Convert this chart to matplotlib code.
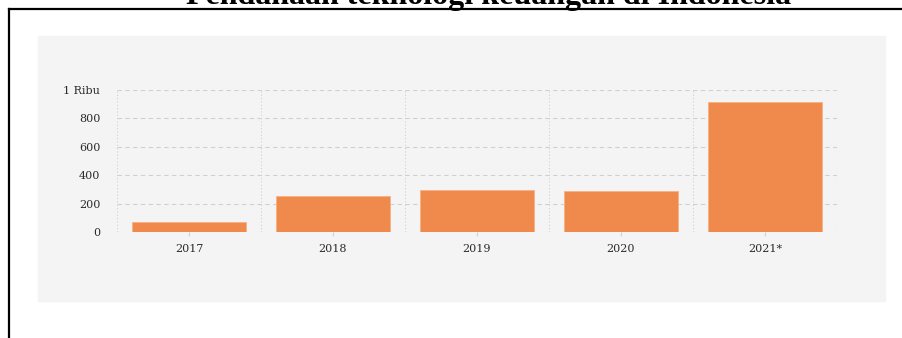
import matplotlib
matplotlib.use("Agg")
import matplotlib.pyplot as plt
from matplotlib.lines import Line2D
from matplotlib.patches import Rectangle

# Fintech funding in Indonesia (juta USD)
YEARS  = ["2017", "2018", "2019", "2020", "2021*"]
VALUES = [70, 255, 296, 289, 913]
Y_TICKS  = [0, 200, 400, 600, 800, 1000]
Y_LABELS = ["0", "200", "400", "600", "800", "1 Ribu"]

W, H = 903, 338
BAR_COLOR   = "#f0894c"
PANEL_COLOR = "#f4f4f4"
GRID_COLOR  = "#d0d0d0"
TEXT_COLOR  = "#2b2b2b"

fig = plt.figure(figsize=(W / 100, H / 100), dpi=100)


def px(x, y):
    """pixel (from top-left) -> figure fraction"""
    return x / W, 1 - y / H


# ── grey panel behind the chart ───────────────────────────────────────────
x0, y0 = px(38, 301)
x1, y1 = px(885, 36)
fig.patches.append(Rectangle((x0, y0), x1 - x0, y1 - y0,
                             transform=fig.transFigure, color=PANEL_COLOR,
                             zorder=-5))

# ── frame lines and cut-off title ─────────────────────────────────────────
lx, ty = px(8.5, 8.5)
fig.add_artist(Line2D([lx, 1.0], [ty, ty], transform=fig.transFigure,
                      color="black", linewidth=1.6))
fig.add_artist(Line2D([lx, lx], [0, ty], transform=fig.transFigure,
                      color="black", linewidth=1.6))
tx, tb = px(489, 4)
fig.text(tx, tb, "Pendanaan teknologi keuangan di Indonesia",
         ha="center", va="baseline", fontsize=23, fontweight="bold",
         family="Liberation Serif", color="black")

# ── bar chart ─────────────────────────────────────────────────────────────
ax_l, ax_b = px(117, 232)
ax_r, ax_t = px(837, 90)
ax = fig.add_axes([ax_l, ax_b, ax_r - ax_l, ax_t - ax_b])
ax.set_facecolor("none")
ax.set_zorder(2)

x = list(range(len(YEARS)))
ax.bar(x, VALUES, width=0.79, color=BAR_COLOR, edgecolor="#f6b183",
       linewidth=0.6, zorder=3)

ax.set_xlim(-0.5, len(YEARS) - 0.5)
ax.set_ylim(0, 1000)

for yv in Y_TICKS:
    ax.axhline(yv, color=GRID_COLOR, linewidth=0.8, linestyle=(0, (4, 3)),
               zorder=1)
for xv in [i - 0.5 for i in range(len(YEARS) + 1)]:
    ax.axvline(xv, color=GRID_COLOR, linewidth=0.8, linestyle=(0, (1, 2)),
               zorder=1)

ax.set_yticks(Y_TICKS)
ax.set_yticklabels(Y_LABELS)
ax.set_xticks(x)
ax.set_xticklabels(YEARS)
ax.tick_params(axis="y", length=0, pad=12, labelsize=8,
               labelcolor=TEXT_COLOR)
ax.tick_params(axis="x", length=3, color=GRID_COLOR, pad=6, labelsize=8,
               labelcolor=TEXT_COLOR)
for lab in ax.get_xticklabels() + ax.get_yticklabels():
    lab.set_family("DejaVu Serif")

for s in ax.spines.values():
    s.set_visible(False)

fig.savefig("out.png", dpi=100)
